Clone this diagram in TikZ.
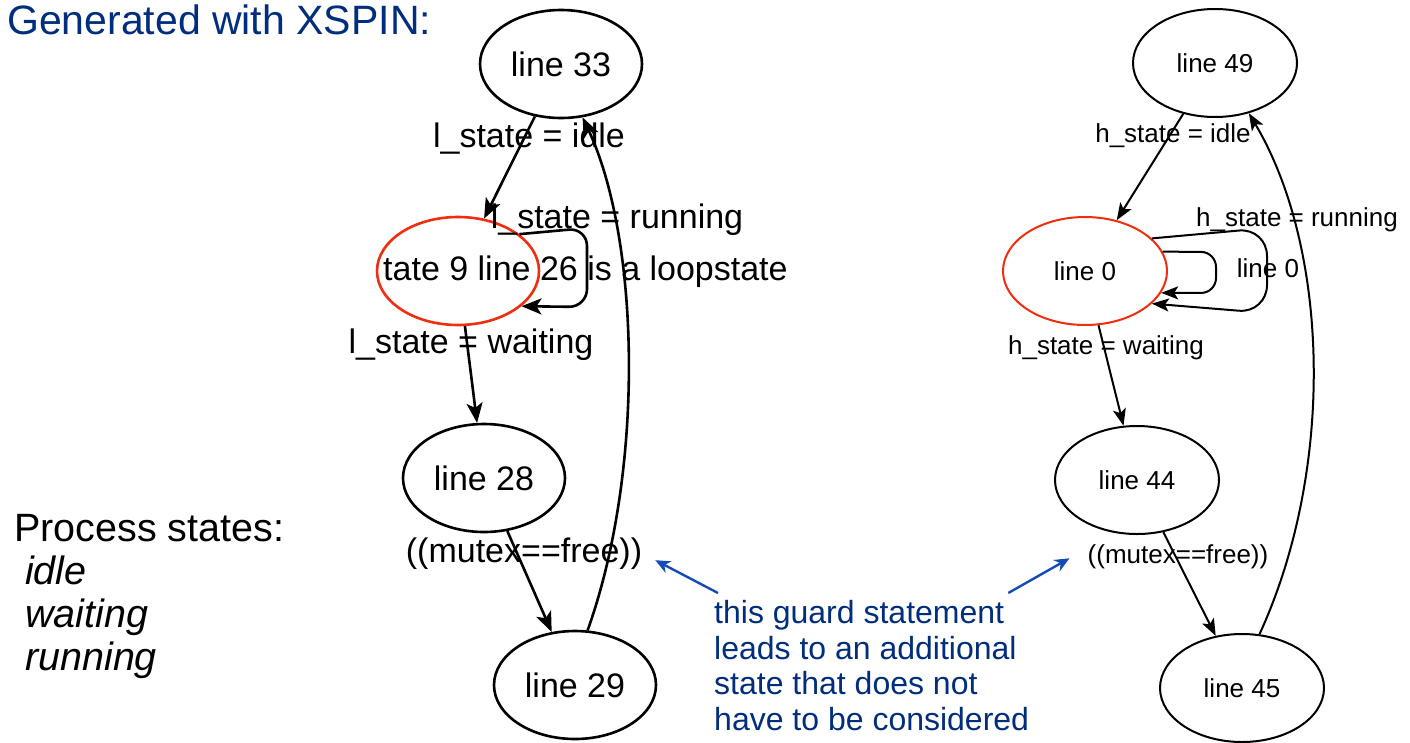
\documentclass[tikz,border=0pt]{standalone}
\usepackage{fontspec}
\setmainfont{Liberation Sans}
\usetikzlibrary{arrows.meta,shapes.geometric}
\definecolor{xnavy}{RGB}{0,45,125}
\definecolor{xblue}{RGB}{20,75,185}
\definecolor{xred}{RGB}{240,45,15}
\newcommand{\bigfont}{\fontsize{34}{40}\selectfont}
\newcommand{\smallfont}{\fontsize{26}{30}\selectfont}
\tikzset{>=Stealth,
 lstate/.style={draw,ellipse,line width=2.6pt,minimum width=162pt,minimum height=108pt,inner sep=0pt,font=\bigfont},
 hstate/.style={draw,ellipse,line width=2pt,minimum width=164pt,minimum height=108pt,inner sep=0pt,font=\smallfont},
 ledge/.style={line width=2.6pt,-{Stealth[length=20pt,width=16pt,inset=5pt]}},
 hedge/.style={line width=2pt,-{Stealth[length=17pt,width=13pt,inset=4pt]}},
 llab/.style={anchor=base,inner sep=0pt,font=\bigfont},
 hlab/.style={anchor=base,inner sep=0pt,font=\smallfont},
 notearrow/.style={xblue,line width=2.4pt,-{Stealth[length=15pt,width=13pt]}}}

\begin{document}
\begin{tikzpicture}[x=1pt,y=-1pt]
\useasboundingbox (0,0) rectangle (1410,742);
% Titre et legende.
\node[anchor=base west,inner sep=0pt,text=xnavy,font=\fontsize{41}{48}\selectfont] (title) at (7,34) {Generated with XSPIN:};
\node[anchor=north west,inner sep=0pt,align=left,font=\fontsize{39.5}{43}\selectfont] (legend) at (14,514)
 {Process states:\\\hspace*{11pt}\textit{idle}\\\hspace*{11pt}\textit{waiting}\\\hspace*{11pt}\textit{running}};
% Processus l (graphe de gauche).
\node[lstate] (l33) at (561,64) {line 33};
\node[lstate,draw=xred] (l26) at (458,271) {};
\node[anchor=base west,inner sep=0pt,font=\bigfont] (l26txt) at (383,280) {tate 9 line 26 is a loopstate};
\node[lstate] (l28) at (484,478) {line 28};
\node[lstate] (l29) at (575,685) {line 29};
\draw[ledge] (l33) -- (l26);
\draw[ledge,rounded corners=18pt] (l26.31) -- (587,228) -- (587,307) -- (l26.-29);
\draw[ledge] (l26) -- (l28);
\draw[ledge] (l28) -- (l29);
\draw[ledge] (l29.77) .. controls (645,470) and (640,240) .. (l33.-68);
\node[llab] (lidle) at (529,147) {l\_state = idle};
\node[llab] (lrun) at (617,228) {l\_state = running};
\node[llab] (lwait) at (471,353) {l\_state = waiting};
\node[llab] (gl) at (524,562) {((mutex==free))};
% Processus h (graphe de droite).
\node[hstate] (h49) at (1215,63) {line 49};
\node[hstate,draw=xred] (h0) at (1085,271) {line 0};
\node[hstate] (h44) at (1137,480) {line 44};
\node[hstate] (h45) at (1242,688) {line 45};
\draw[hedge] (h49) -- (h0);
\draw[hedge,rounded corners=15pt] (h0.14) -- (1216,252) -- (1216,293) -- (h0.-16);
\draw[hedge,rounded corners=28pt] (h0.26) -- (1267,228) -- (1267,313) -- (h0.-26);
\draw[hedge] (h0) -- (h44);
\draw[hedge] (h44) -- (h45);
\draw[hedge] (h45.72) .. controls (1335,470) and (1330,250) .. (h49.-56);
\node[hlab] (hidle) at (1173,142) {h\_state = idle};
\node[hlab] (hrun) at (1297,226) {h\_state = running};
\node[hlab] (hloop) at (1268,277) {line 0};
\node[hlab] (hwait) at (1106,354) {h\_state = waiting};
\node[hlab] (gr) at (1178,563) {((mutex==free))};
% Remarque sur la garde.
\node[anchor=north west,inner sep=0pt,align=left,text=xnavy,font=\fontsize{32}{35.7}\selectfont] (note) at (714,600)
 {this guard statement\\leads to an additional\\state that does not\\have to be considered};
\coordinate (tipL) at ([shift={(13,7)}]gl.east);
\coordinate (tipR) at ([shift={(-18,2)}]gr.west);
\draw[notearrow] ([shift={(4,-7)}]note.north west) -- (tipL);
\draw[notearrow] ([shift={(-21,-7)}]note.north east) -- (tipR);
\end{tikzpicture}
\end{document}
